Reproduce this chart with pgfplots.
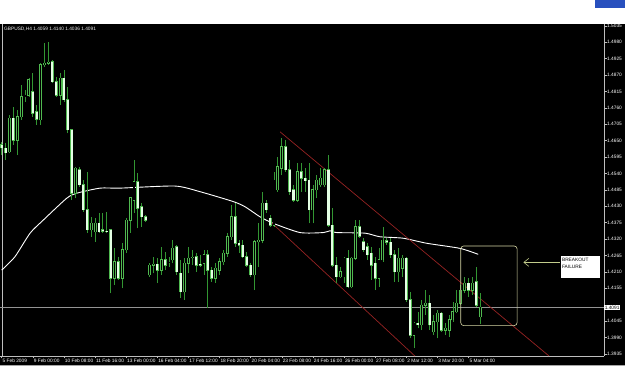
\documentclass[border=0pt]{standalone}
\usepackage{pgfplots}
\pgfplotsset{compat=1.18}
\usepackage{pgfplotstable}
\usepackage{fontspec}
\setmainfont{Liberation Sans}
\usetikzlibrary{arrows.meta}
\definecolor{wick}{RGB}{50,150,50}
\definecolor{bodyg}{RGB}{80,185,80}
\definecolor{bearfill}{RGB}{228,255,228}
\definecolor{chan}{RGB}{150,35,35}
\definecolor{rectc}{RGB}{215,215,165}
\definecolor{arrowc}{RGB}{195,205,140}
\definecolor{axisg}{RGB}{190,190,190}
\definecolor{chrome}{RGB}{40,80,190}

\pgfplotstableread{
x o h l c
0 1.4636 1.4647 1.4602 1.4626
1 1.4625 1.4641 1.4585 1.4610
2 1.4613 1.4736 1.4608 1.4725
3 1.4725 1.4764 1.4636 1.4652
4 1.4652 1.4753 1.4602 1.4731
5 1.4731 1.4837 1.4720 1.4798
6 1.4798 1.4820 1.4781 1.4803
7 1.4803 1.4859 1.4798 1.4854
8 1.4814 1.4876 1.4731 1.4742
9 1.4747 1.4770 1.4703 1.4722
10 1.4720 1.4910 1.4703 1.4904
11 1.4904 1.4977 1.4898 1.4910
12 1.4910 1.4982 1.4904 1.4913
13 1.4915 1.4921 1.4843 1.4848
14 1.4848 1.4865 1.4798 1.4803
15 1.4803 1.4876 1.4770 1.4859
16 1.4859 1.4887 1.4781 1.4787
17 1.4787 1.4831 1.4675 1.4686
18 1.4686 1.4688 1.4451 1.4474
19 1.4474 1.4563 1.4457 1.4558
20 1.4552 1.4563 1.4496 1.4502
21 1.4502 1.4518 1.4412 1.4418
22 1.4418 1.4546 1.4340 1.4351
23 1.4351 1.4395 1.4328 1.4374
24 1.4345 1.4390 1.4311 1.4373
25 1.4373 1.4407 1.4340 1.4345
26 1.4351 1.4407 1.4340 1.4347
27 1.4347 1.4412 1.4340 1.4346
28 1.4351 1.4353 1.4138 1.4189
29 1.4189 1.4289 1.4166 1.4244
30 1.4244 1.4261 1.4183 1.4189
31 1.4189 1.4306 1.4155 1.4284
32 1.4284 1.4391 1.4273 1.4384
33 1.4384 1.4462 1.4341 1.4458
34 1.4451 1.4585 1.4408 1.4513
35 1.4513 1.4541 1.4356 1.4423
36 1.4429 1.4440 1.4362 1.4395
37 1.4395 1.4401 1.4377 1.4384
38 1.4200 1.4239 1.4194 1.4233
39 1.4233 1.4261 1.4205 1.4236
40 1.4236 1.4256 1.4172 1.4216
41 1.4216 1.4295 1.4200 1.4250
42 1.4250 1.4278 1.4216 1.4233
43 1.4240 1.4261 1.4228 1.4243
44 1.4250 1.4317 1.4239 1.4290
45 1.4295 1.4300 1.4200 1.4211
46 1.4205 1.4250 1.4122 1.4144
47 1.4144 1.4257 1.4116 1.4239
48 1.4239 1.4295 1.4205 1.4256
49 1.4257 1.4284 1.4233 1.4260
50 1.4261 1.4272 1.4211 1.4233
51 1.4236 1.4267 1.4228 1.4233
52 1.4239 1.4284 1.4200 1.4267
53 1.4267 1.4284 1.4089 1.4216
54 1.4216 1.4228 1.4177 1.4189
55 1.4189 1.4239 1.4172 1.4222
56 1.4216 1.4256 1.4200 1.4244
57 1.4244 1.4284 1.4233 1.4272
58 1.4272 1.4340 1.4261 1.4328
59 1.4328 1.4434 1.4317 1.4395
60 1.4395 1.4440 1.4295 1.4306
61 1.4306 1.4317 1.4273 1.4300
62 1.4300 1.4317 1.4256 1.4261
63 1.4261 1.4278 1.4228 1.4233
64 1.4233 1.4239 1.4194 1.4200
65 1.4200 1.4317 1.4149 1.4311
66 1.4311 1.4373 1.4228 1.4317
67 1.4317 1.4479 1.4306 1.4440
68 1.4440 1.4451 1.4407 1.4418
69 1.4390 1.4401 1.4362 1.4367
70 1.4367 1.4546 1.4362 1.4518
71 1.4485 1.4596 1.4479 1.4563
72 1.4558 1.4658 1.4535 1.4630
73 1.4630 1.4652 1.4546 1.4552
74 1.4552 1.4585 1.4468 1.4479
75 1.4485 1.4502 1.4445 1.4451
76 1.4451 1.4574 1.4445 1.4546
77 1.4546 1.4574 1.4479 1.4524
78 1.4524 1.4558 1.4479 1.4516
79 1.4518 1.4574 1.4373 1.4418
80 1.4418 1.4502 1.4373 1.4485
81 1.4485 1.4535 1.4457 1.4518
82 1.4502 1.4558 1.4496 1.4524
83 1.4502 1.4558 1.4496 1.4552
84 1.4552 1.4602 1.4362 1.4367
85 1.4367 1.4423 1.4228 1.4233
86 1.4233 1.4261 1.4172 1.4194
87 1.4194 1.4228 1.4189 1.4211
88 1.4194 1.4261 1.4172 1.4256
89 1.4256 1.4284 1.4155 1.4160
90 1.4160 1.4261 1.4155 1.4256
91 1.4256 1.4384 1.4250 1.4362
92 1.4362 1.4384 1.4325 1.4330
93 1.4311 1.4323 1.4278 1.4284
94 1.4295 1.4306 1.4250 1.4267
95 1.4272 1.4295 1.4183 1.4233
96 1.4239 1.4261 1.4149 1.4189
97 1.4189 1.4289 1.4160 1.4250
98 1.4250 1.4362 1.4244 1.4317
99 1.4314 1.4323 1.4300 1.4310
100 1.4310 1.4324 1.4257 1.4267
101 1.4267 1.4284 1.4177 1.4211
102 1.4211 1.4289 1.4177 1.4256
103 1.4222 1.4267 1.4194 1.4256
104 1.4256 1.4261 1.4110 1.4116
105 1.4116 1.4144 1.3987 1.3998
106 1.3998 1.4043 1.3954 1.4038
107 1.4038 1.4077 1.4021 1.4032
108 1.4032 1.4116 1.4015 1.4099
109 1.4099 1.4149 1.4066 1.4105
110 1.4105 1.4133 1.4015 1.4032
111 1.4010 1.4066 1.3998 1.4043
112 1.4043 1.4082 1.3987 1.4071
113 1.4071 1.4077 1.4010 1.4015
114 1.4015 1.4038 1.3998 1.4021
115 1.4015 1.4066 1.3993 1.4049
116 1.4049 1.4110 1.4043 1.4077
117 1.4077 1.4149 1.4071 1.4105
118 1.4105 1.4166 1.4099 1.4149
119 1.4149 1.4194 1.4138 1.4172
120 1.4172 1.4189 1.4127 1.4149
121 1.4149 1.4194 1.4133 1.4172
122 1.4177 1.4228 1.4093 1.4099
123 1.4059 1.4140 1.4036 1.4091
}\data

\newcommand{\tf}{\fontsize{4.8}{5.5}\selectfont}

\begin{document}
\begin{tikzpicture}
\fill[white] (0,0) rectangle (625pt,391pt);
\fill[chrome] (595pt,383pt) rectangle (625pt,391pt);
\fill[black] (0,26pt) rectangle (625pt,367pt);
\draw[gray!70, line width=0.6pt] (0,25.7pt) -- (625pt,25.7pt);
\begin{axis}[
  at={(0pt,35pt)}, anchor=south west,
  scale only axis, width=604pt, height=332pt,
  xmin=-0.437, xmax=154.83, ymin=1.3928, ymax=1.50415,
  axis background/.style={fill=black},
  axis x line*=bottom, axis y line*=right,
  axis line style={draw=axisg, line width=0.6pt},
  tick style={draw=axisg, line width=0.5pt},
  tick align=outside, major tick length=2.5pt,
  scaled y ticks=false,
  xtick={0,8,...,120},
  xticklabels={5 Feb 2009,9 Feb 00:00,10 Feb 08:00,11 Feb 16:00,13 Feb 00:00,16 Feb 04:00,17 Feb 12:00,18 Feb 20:00,20 Feb 04:00,23 Feb 08:00,24 Feb 16:00,26 Feb 00:00,27 Feb 08:00,2 Mar 12:00,3 Mar 20:00,5 Mar 04:00},
  xticklabel style={anchor=north west, font=\tf, text=white, inner sep=0pt, xshift=0.8pt, yshift=-0.5pt},
  ytick={1.3935,1.3990,1.4045,1.4155,1.4210,1.4265,1.4320,1.4375,1.4430,1.4485,1.4540,1.4595,1.4650,1.4705,1.4760,1.4815,1.4870,1.4925,1.4980,1.5035},
  yticklabel style={anchor=west, font=\tf, text=white, inner sep=0pt, xshift=0.5pt,
    /pgf/number format/.cd, fixed, fixed zerofill, precision=4, assume math mode=true},
  clip=false,
]
% left border
\draw[axisg, line width=0.6pt] (rel axis cs:0.0035,0) -- (rel axis cs:0.0035,1);
% current price line
\addplot[gray!85, line width=0.6pt, forget plot] coordinates {(-0.437,1.4091) (154.83,1.4091)};
% moving average
\addplot[white, line width=0.9pt, smooth, tension=0.4, forget plot] coordinates {
(0,1.4216) (3.4,1.4261) (7.3,1.4340) (10.7,1.4384) (16.7,1.4457) (19.3,1.4474)
(25.3,1.4491) (30.4,1.4491) (44.5,1.4498) (51,1.4479) (59.5,1.4446) (62.5,1.4429)
(66.4,1.4395) (69.8,1.4373) (76.7,1.4342) (82.7,1.4342) (84.4,1.4348) (86.1,1.4342)
(93.4,1.4340) (97.2,1.4328) (103.2,1.4323) (109.3,1.4306) (117.8,1.4289) (122.5,1.4269)};
% channel lines
\addplot[chan, line width=0.7pt, forget plot] coordinates {(71.54,1.4680) (140.7,1.3928)};
\addplot[chan, line width=0.7pt, forget plot] coordinates {(69.2,1.4377) (106.2,1.3928)};
% wicks
\addplot[draw=none, mark=none, forget plot,
  error bars/.cd, y dir=plus, y explicit, error mark=none,
  error bar style={draw=wick, line width=0.8pt}]
  table[x=x, y=l, y error plus expr={\thisrow{h}-\thisrow{l}}] {\data};
% body outline
\addplot[draw=none, mark=none, forget plot,
  error bars/.cd, y dir=plus, y explicit, error mark=none,
  error bar style={draw=bodyg, line width=2.9pt}]
  table[x=x, y expr={min(\thisrow{o},\thisrow{c})-0.00017}, y error plus expr={abs(\thisrow{c}-\thisrow{o})+0.00034}] {\data};
% bull interior (black)
\addplot[draw=none, mark=none, forget plot,
  error bars/.cd, y dir=plus, y explicit, error mark=none,
  error bar style={draw=black, line width=1.1pt}]
  table[x=x, y=o, y error plus expr={\thisrow{c}>\thisrow{o} ? \thisrow{c}-\thisrow{o} : 0}] {\data};
% bear interior (white)
\addplot[draw=none, mark=none, forget plot,
  error bars/.cd, y dir=plus, y explicit, error mark=none,
  error bar style={draw=bearfill, line width=2.1pt}]
  table[x=x, y=c, y error plus expr={\thisrow{o}>\thisrow{c} ? \thisrow{o}-\thisrow{c} : 0}] {\data};
% header
\node[anchor=west, text=white!90!gray, font=\tf, inner sep=0pt] at (rel axis cs:0.0066,0.985) {GBPUSD,H4 1.4059 1.4140 1.4036 1.4091};
% current price box
\node[anchor=west, fill=white, text=black, font=\tf, inner sep=0.6pt] at (axis cs:154.83,1.4091) {1.4091};
% annotation rectangle
\draw[rectc, line width=0.6pt, rounded corners=3pt] (axis cs:118,1.4030) rectangle (axis cs:132.5,1.4297);
% arrow
\draw[arrowc, line width=0.6pt, -{Straight Barb[length=5pt,width=8pt]}] (axis cs:143.5,1.4242) -- (axis cs:134.1,1.4242);
% text box
\fill[white] (axis cs:143.7,1.4191) rectangle (axis cs:153.8,1.4263);
\node[anchor=west, text=black, font=\tf, inner sep=0pt] at (axis cs:144.0,1.4250) {BREAKOUT};
\node[anchor=west, text=black, font=\tf, inner sep=0pt] at (axis cs:144.0,1.4228) {FAILURE};
\end{axis}
\pgfresetboundingbox
\useasboundingbox (0,0) rectangle (625pt,391pt);
\end{tikzpicture}
\end{document}
